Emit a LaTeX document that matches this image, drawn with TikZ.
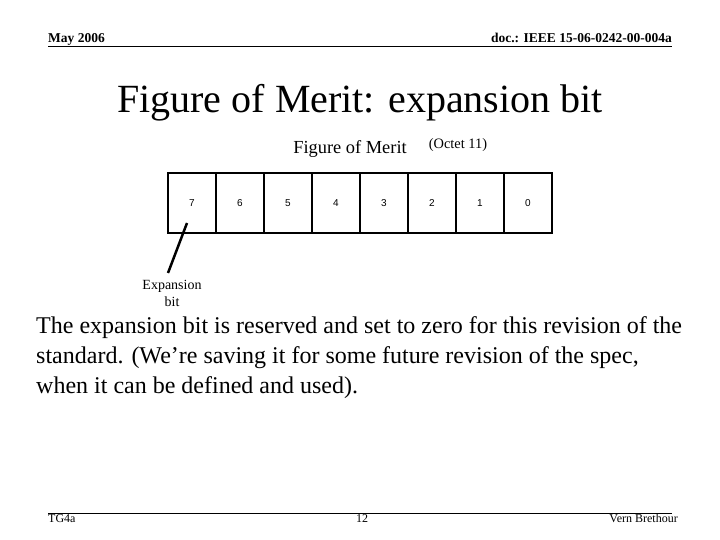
\documentclass[tikz,border=0pt]{standalone}
\usepackage{fontspec}
\setmainfont{Liberation Serif}
\newfontfamily\arial{Liberation Sans}
\begin{document}
\begin{tikzpicture}[x=1pt,y=-1pt,
  bitbox/.style={draw,line width=1.3pt,minimum width=48pt,minimum height=60pt,inner sep=0pt,font=\arial\fontsize{10}{11}\selectfont},
  txt/.style={inner sep=0pt}]
\useasboundingbox (0,0) rectangle (720,540);
\node[txt,anchor=base west,font=\bfseries\fontsize{13.5}{15}\selectfont] (hl) at (48,43) {May 2006};
\node[txt,anchor=base east,font=\bfseries\fontsize{13.5}{15}\selectfont] (hr) at (672,43) {doc.: IEEE 15-06-0242-00-004a};
\draw[line width=1pt] (48,47) -- (672,47);
\node[txt,anchor=base,font=\fontsize{40}{44}\selectfont] (title) at (360,113) {Figure of Merit: expansion bit};
\node[txt,anchor=base,font=\fontsize{18.4}{20}\selectfont] (fom) at (350,154) {Figure of Merit};
\node[txt,anchor=base,font=\fontsize{14.4}{16}\selectfont] (oct) at (458,149) {(Octet 11)};
\foreach \b [count=\i from 0] in {7,6,5,4,3,2,1,0}
  \node[bitbox] (b\b) at (192+\i*48,203) {\b};
\coordinate (tip) at (187,223);
\coordinate (tail) at (168,273);
\draw[line width=2.5pt] (tail) -- (tip);
\node[txt,align=center,font=\fontsize{14}{17}\selectfont] (exp) at (172,293) {Expansion\\bit};
\node[txt,anchor=north west,align=left,font=\fontsize{24}{30}\selectfont] (body) at (36,316)
 {The expansion bit is reserved and set to zero for this revision of the\\standard. (We’re saving it for some future revision of the spec,\\when it can be defined and used).};
\draw[line width=1pt] (48,513) -- (672,513);
\node[txt,anchor=base west,font=\fontsize{12}{14}\selectfont] (fl) at (48,522) {TG4a};
\node[txt,anchor=base,font=\fontsize{12}{14}\selectfont] (fc) at (362,522) {12};
\node[txt,anchor=base east,font=\fontsize{12}{14}\selectfont] (fr) at (678,522) {Vern Brethour};
\end{tikzpicture}
\end{document}
